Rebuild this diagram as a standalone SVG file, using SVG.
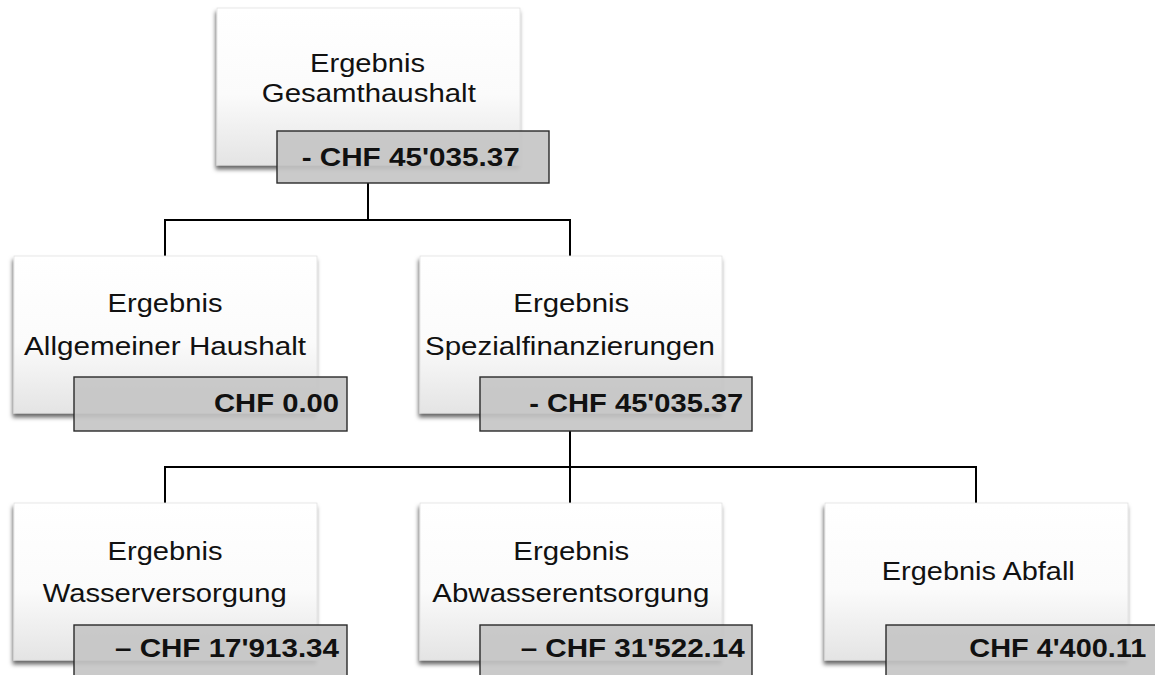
<svg xmlns="http://www.w3.org/2000/svg" width="1155" height="675" viewBox="0 0 1155 675">
<defs>
<linearGradient id="boxGrad" x1="0" y1="0" x2="0" y2="1">
<stop offset="0" stop-color="#ffffff"/>
<stop offset="0.55" stop-color="#fbfbfb"/>
<stop offset="1" stop-color="#e4e4e4"/>
</linearGradient>
<filter id="shadow" x="-10%" y="-10%" width="120%" height="130%">
<feDropShadow dx="-1" dy="4" stdDeviation="2.2" flood-color="#000" flood-opacity="0.6"/>
</filter>
</defs>
<style>
.box { fill: url(#boxGrad); stroke: #e0e0e0; stroke-width: 0.8; filter: url(#shadow); }
.lbl { fill: #c4c4c4; fill-opacity: 0.9; stroke: #2a2a2a; stroke-width: 1.4; }
.t { font-family: "Liberation Sans", Arial, sans-serif; font-size: 26px; fill: #111; }
.v { font-family: "Liberation Sans", Arial, sans-serif; font-size: 26px; font-weight: bold; fill: #111; }
.conn { fill: none; stroke: #000; stroke-width: 2; }
</style>
<rect width="1155" height="675" fill="#ffffff"/>
<g id="connectors">
<path class="conn" d="M368 183 V220 M165 256 V220 H570 V256"/>
<path class="conn" d="M570 431 V467 M165 503 V467 H976 V503 M570 467 V503"/>
</g>
<g id="node-gesamt">
<rect class="box" x="217" y="8" width="303" height="157"/>
<rect class="lbl" x="277" y="131" width="272" height="52"/>
<text class="t" x="367.5" y="71.7" text-anchor="middle" textLength="115" lengthAdjust="spacingAndGlyphs">Ergebnis</text>
<text class="t" x="368.8" y="101.7" text-anchor="middle" textLength="214" lengthAdjust="spacingAndGlyphs">Gesamthaushalt</text>
<text class="v" x="301.7" y="165.7" textLength="218" lengthAdjust="spacingAndGlyphs">- CHF 45'035.37</text>
</g>
<g id="node-allgemein">
<rect class="box" x="14" y="256" width="303" height="157"/>
<rect class="lbl" x="74" y="377" width="273" height="54"/>
<text class="t" x="165" y="311.7" text-anchor="middle" textLength="115" lengthAdjust="spacingAndGlyphs">Ergebnis</text>
<text class="t" x="165" y="355" text-anchor="middle" textLength="282" lengthAdjust="spacingAndGlyphs">Allgemeiner Haushalt</text>
<text class="v" x="214" y="411.7" textLength="125" lengthAdjust="spacingAndGlyphs">CHF 0.00</text>
</g>
<g id="node-spezial">
<rect class="box" x="420" y="256" width="302" height="157"/>
<rect class="lbl" x="480" y="377" width="272" height="54"/>
<text class="t" x="571.3" y="311.7" text-anchor="middle" textLength="116" lengthAdjust="spacingAndGlyphs">Ergebnis</text>
<text class="t" x="570" y="355" text-anchor="middle" textLength="290" lengthAdjust="spacingAndGlyphs">Spezialfinanzierungen</text>
<text class="v" x="529.3" y="411.7" textLength="214" lengthAdjust="spacingAndGlyphs">- CHF 45'035.37</text>
</g>
<g id="node-wasser">
<rect class="box" x="14" y="503" width="303" height="157"/>
<rect class="lbl" x="74" y="625" width="273" height="56"/>
<text class="t" x="165" y="560" text-anchor="middle" textLength="115" lengthAdjust="spacingAndGlyphs">Ergebnis</text>
<text class="t" x="164.7" y="601.7" text-anchor="middle" textLength="244" lengthAdjust="spacingAndGlyphs">Wasserversorgung</text>
<text class="v" x="115" y="656.7" textLength="224" lengthAdjust="spacingAndGlyphs">– CHF 17'913.34</text>
</g>
<g id="node-abwasser">
<rect class="box" x="420" y="503" width="302" height="157"/>
<rect class="lbl" x="480" y="625" width="272" height="56"/>
<text class="t" x="571.3" y="560" text-anchor="middle" textLength="116" lengthAdjust="spacingAndGlyphs">Ergebnis</text>
<text class="t" x="570.8" y="601.7" text-anchor="middle" textLength="277" lengthAdjust="spacingAndGlyphs">Abwasserentsorgung</text>
<text class="v" x="520.7" y="656.7" textLength="224" lengthAdjust="spacingAndGlyphs">– CHF 31'522.14</text>
</g>
<g id="node-abfall">
<rect class="box" x="825" y="503" width="303" height="157"/>
<rect class="lbl" x="886" y="625" width="280" height="56"/>
<text class="t" x="978.3" y="580" text-anchor="middle" textLength="193" lengthAdjust="spacingAndGlyphs">Ergebnis Abfall</text>
<text class="v" x="969.3" y="656.7" textLength="177" lengthAdjust="spacingAndGlyphs">CHF 4'400.11</text>
</g>
</svg>
